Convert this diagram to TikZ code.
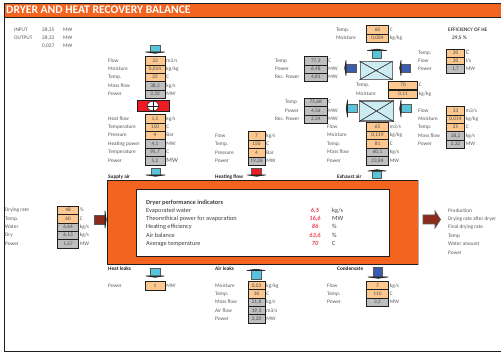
\documentclass[tikz,border=0pt]{standalone}
\usepackage{fontspec}
\setmainfont{Carlito}
\usepackage{xcolor}
\usetikzlibrary{positioning,shapes.geometric}
\definecolor{frameblack}{HTML}{1E1E1E}
\definecolor{furnace}{HTML}{F36421}
\definecolor{inputcell}{HTML}{FCC88F}
\definecolor{calccell}{HTML}{BFBFBF}
\definecolor{airteal}{HTML}{58C4DC}
\definecolor{coolblue}{HTML}{3A5DAE}
\definecolor{hotred}{HTML}{ED1C24}
\definecolor{rust}{HTML}{8C2A1B}
\definecolor{hxfill}{HTML}{CDEBF2}
\definecolor{lblgrey}{HTML}{595959}
\definecolor{kpired}{HTML}{EE4055}
\newcommand{\bigunit}[1]{{\fontsize{6.6}{7}\selectfont #1}}
\tikzset{
  txt/.style={inner sep=0pt, text height=3.6pt, text depth=1pt, font=\fontsize{5.3}{6}\selectfont},
  lbl/.style={txt, text=lblgrey, anchor=west},
  head/.style={txt, text=black!85, anchor=west, font=\fontsize{5.3}{6}\selectfont\bfseries},
  cell/.style={txt, draw=frameblack, line width=0.9pt, minimum height=8.4pt, text=black!70},
  inp/.style={cell, fill=inputcell},
  calc/.style={cell, fill=calccell},
  kpi/.style={inner sep=0pt, text height=4pt, text depth=1.2pt, anchor=west, text=black!75,
              font=\fontsize{6.3}{7}\selectfont},
  kpival/.style={kpi, anchor=center, text=kpired, font=\fontsize{6.3}{7}\selectfont\bfseries\itshape},
  hx/.style={draw=black!55, line width=1pt, fill=hxfill, inner sep=0pt},
  arrowline/.style={draw=black!65, line width=0.7pt},
}
% name, left x, right x, label x, rows y/label/value/unit/style
\newcommand{\datastack}[5]{%
  \foreach[count=\ii] \yy/\lab/\val/\uni/\sty in {#5}{
    \node[\sty, minimum width={(#3-#2)*1pt}] (#1c\ii) at ({(#2+#3)/2},\yy) {\val};
    \node[lbl] (#1l\ii) at (#4,\yy) {\lab};
    \node[lbl, right=0.8pt of #1c\ii] (#1u\ii) {\uni};
  }}
% x, y of the tail, rotation, colour, length, half width, half span
\newcommand{\flowarrow}[7]{%
  \begin{scope}[shift={(#1,#2)}, rotate=#3]
    \filldraw[arrowline, fill=#4] (0,-#6) rectangle (#5,#6);
    \filldraw[black!85, line width=0.6pt, line join=round] (#5,-#7) -- (#5+1.3,0) -- (#5,#7) -- cycle;
  \end{scope}}

\begin{document}
\begin{tikzpicture}[x=1pt, y=-1pt]
\clip (0,0) rectangle (501,352);
\fill[white] (0,0) rectangle (501,352);
% frame and title
\fill[furnace] (4,3) rectangle (510,17);
\draw[frameblack, line width=0.9pt] (4,3) rectangle (510,351);
\draw[frameblack, line width=0.9pt] (4,17) -- (510,17);
\node[anchor=west, inner sep=0pt, text=white, font=\fontsize{11.6}{13}\selectfont\bfseries] (title) at (6,10) {DRYER AND HEAT RECOVERY BALANCE};
% energy totals
\foreach[count=\ii] \yy/\lab/\val in {30/INPUT/{28,35}, 38/OUTPUT/{28,32}, 46//{0,027}}{
  \node[lbl] (totl\ii) at (14,\yy) {\lab};
  \node[lbl] (totv\ii) at (42,\yy) {\val};
  \node[lbl] (totu\ii) at (63,\yy) {MW};
}
\node[head, text=black!70] (effhead) at (448,30) {EFFICIENCY OF HE};
\node[head, text=black!70] (effval) at (452,38.5) {29,5 \%};
% dryer
\node[draw=frameblack, line width=1pt, fill=furnace, minimum width=311pt, minimum height=84pt, inner sep=0pt] (dryer) at (262.5,223) {};
\draw[black!30, line width=1pt] (dryer.north east) -- (dryer.south east);
\node[draw=frameblack, line width=0.9pt, fill=white, minimum width=252.5pt, minimum height=66.5pt, inner sep=0pt] (panel) at (262.75,223) {};
\foreach[count=\ii] \yy/\lab/\val/\uni in {211/Evaporated water/{6,5}/{kg/s}, 219/Theorethical power for avaporation/{16,6}/MW, 227/Heating efficiency/86/\%, 236/Air balance/{63,6}/\%, 244/Average temperature/70/C}{
  \node[kpi] (kpil\ii) at (146,\yy) {\lab};
  \node[kpival] (kpiv\ii) at (315,\yy) {\val};
  \node[kpi] (kpiu\ii) at (332,\yy) {\uni};
}
\node[kpi, font=\fontsize{6.3}{7}\selectfont\bfseries] (kpihead) at (146,203) {Dryer performance indicators};
% intake air and steam
\flowarrow{155}{45}{-90}{airteal}{7}{5}{9.5}
\datastack{air}{145}{165}{108}{61/Flow/33/{m3/s}/inp, 69.4/Moisture/{0,014}/{kg/kg}/inp, 77.6/Temp./25/C/inp, 86/Mass flow/{38,2}/{kg/s}/calc, 94.4/Power/{2,32}/MW/calc}
\node[draw=frameblack, line width=0.8pt, fill=hotred, minimum width=32pt, minimum height=11.5pt, inner sep=0pt] (heater) at (153,106) {};
\node[draw=frameblack, line width=0.5pt, fill=white, ellipse, minimum width=12pt, minimum height=9.5pt, inner sep=0pt] (fan) at (heater.center) {};
\draw[frameblack, line width=0.5pt] (fan.north) -- (fan.south) (fan.west) -- (fan.east);
\datastack{htr}{145}{165}{108}{118.8/Heat flow/{1,5}/{kg/s}/inp, 127.2/Temperature/150/C/inp, 135.6/Pressure/4/Bar/inp, 144/Heating power/{4,1}/MW/calc, 152.6/Temperature/{95,7}/C/calc, 161/Power/{5,2}/\bigunit{MW}/calc}
\flowarrow{155.5}{168.5}{-90}{airteal}{6.5}{4.5}{9.5}
\node[head] (supply) at (108,177) {Supply air};
% heating flow
\datastack{heat}{248}{265}{215}{136/Flow/7/{kg/s}/inp, 144.4/Temp./150/C/inp, 152.8/Pressure/4/Bar/inp, 161.2/Power/{19,26}/MW/calc}
\flowarrow{256.5}{168}{-90}{hotred}{7}{4.7}{9}
\node[head] (heating) at (215,177) {Heating flow};
% heat recovery
\datastack{top}{366.5}{388.5}{336}{30/Temp./60/C/inp, 38.4/Moisture/{0,084}/{kg/kg}/inp}
\flowarrow{377}{58}{90}{airteal}{7.5}{4.5}{9.5}
\node[hx, minimum width=32pt, minimum height=17.5pt] (hxup) at (376,70.5) {};
\draw[frameblack, line width=0.6pt] (hxup.north west) -- (hxup.south east) (hxup.south west) -- (hxup.north east);
\flowarrow{356}{68}{180}{coolblue}{10}{3.9}{7.5}
\flowarrow{410}{68}{180}{coolblue}{9}{3.9}{7.5}
\datastack{ruw}{304.5}{327}{275}{61/Temp/{77,3}/C/calc, 69.4/Power/{6,48}/MW/calc, 77.6/Rec. Power/{4,81}/MW/calc}
\datastack{wat}{446.5}{464.5}{418}{53.6/Temp./20/\bigunit{C}/inp, 61.2/Flow/20/{l/s}/inp, 69/Power/{1,7}/MW/calc}
\datastack{mid}{388.5}{417.5}{356}{85.6/Temp./70/C/inp, 94.4/Moisture/{0,11}/{kg/kg}/inp}
\node[hx, line width=1.2pt, minimum width=33.5pt, minimum height=20pt] (hxlow) at (376.5,111) {};
\draw[frameblack, line width=0.6pt] (hxlow.north west) -- (hxlow.south east) (hxlow.south west) -- (hxlow.north east);
\flowarrow{357}{108.5}{180}{airteal}{9.5}{4}{8.5}
\flowarrow{411}{108.5}{180}{airteal}{10}{4}{8.5}
\datastack{rlw}{304.5}{327}{285}{102.4/Temp/{75,68}/C/calc, 110.8/Power/{4,56}/MW/calc}
\datastack{rec}{304.5}{327}{275}{119.2/Rec. Power/{2,24}/MW/calc}
\datastack{fresh}{446.5}{464.5}{418}{110.8/Flow/33/{m3/s}/inp, 119.2/Moisture/{0,014}/{kg/kg}/inp, 127.4/Temp./25/C/inp, 136/Mass flow/{38,2}/{kg/s}/calc, 144.4/Power/{2,32}/MW/calc}
\datastack{exh}{366.5}{388.5}{327}{127/Flow/65/{m3/s}/inp, 135.6/Moisture/{0,119}/{kg/kg}/inp, 144/Temp./81/C/inp, 152.6/Mass flow/{60,1}/{kg/s}/calc, 161/Power/{23,84}/MW/calc}
\flowarrow{377}{178}{90}{airteal}{7}{4.5}{9}
\node[head] (exhaust) at (337,177) {Exhaust air};
% wet feed and product
\datastack{wet}{57.5}{78.5}{5}{210.6/Drying rate/48/\%/inp, 219/Temp./60/C/inp, 227.4/Water/{6,64}/{kg/s}/calc, 235.6/Dry/{6,13}/{kg/s}/calc, 244/Power/{1,67}/MW/calc}
\flowarrow{94.5}{219.5}{0}{rust}{10.5}{4.5}{8.5}
\draw[arrowline, fill=rust] (423,215) -- (435,215) -- (435,211) -- (440.5,219.5) -- (435,228) -- (435,224) -- (423,224) -- cycle;
\foreach[count=\ii] \yy/\lab in {211/Production, 219.5/Drying rate after dryer, 227.5/Final drying rate, 236/Temp, 244.5/Water amount, 253/Power}{
  \node[lbl] (prod\ii) at (448,\yy) {\lab};
}
% losses
\node[head] (leakheat) at (108,269) {Heat leaks};
\flowarrow{155}{268}{-90}{airteal}{8}{5}{9}
\datastack{hl}{145}{165}{108}{286/Power/1/MW/inp}
\node[head] (leakair) at (215,269) {Air leaks};
\flowarrow{256}{279}{90}{airteal}{8.5}{5}{9}
\datastack{al}{248}{265}{215}{286/Moisture/{0,03}/{kg/kg}/inp, 294/Temp./30/C/inp, 302.2/Mass flow/{21,8}/{kg/s}/calc, 310.8/Air flow/{19,3}/{m3/s}/calc, 319/Power/{2,20}/MW/calc}
\node[head] (cond) at (337,269) {Condensate};
\flowarrow{378}{267.5}{-90}{coolblue}{9.5}{4.8}{10}
\datastack{con}{366.5}{388.5}{327}{286/Flow/7/{kg/s}/inp, 294/Temp./110/C/inp, 302.2/Power/{3,2}/MW/calc}
\end{tikzpicture}
\end{document}
